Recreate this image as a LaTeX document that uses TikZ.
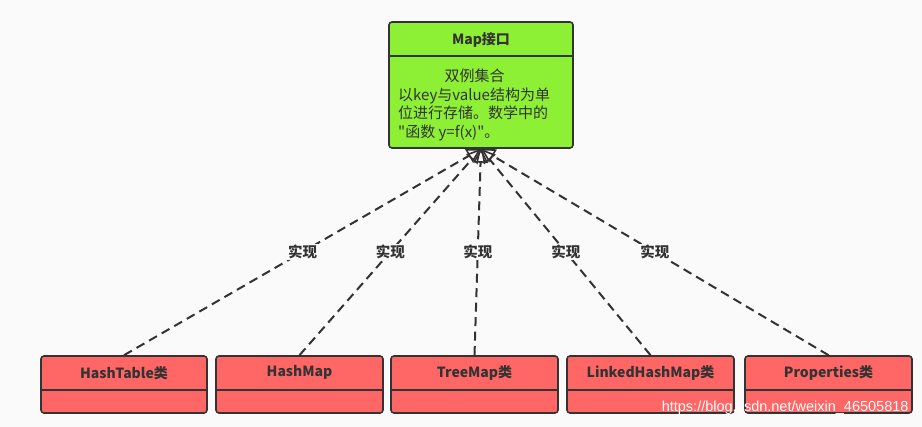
\documentclass[tikz,border=0pt]{standalone}
\usepackage{fontspec}
\setmainfont{Noto Sans CJK SC}
\newfontfamily\cjkbody{Noto Sans CJK SC}
\newfontfamily\wmfont{Liberation Sans}
\usetikzlibrary{arrows.meta,calc}
\definecolor{mapgreen}{RGB}{141,240,52}
\definecolor{clsred}{RGB}{255,102,102}
\definecolor{edgegray}{RGB}{51,51,51}
\definecolor{bggray}{RGB}{250,250,250}
\tikzset{
	cls/.style={draw=edgegray, line width=1.6pt, rounded corners=3pt, inner sep=0pt},
	ttl/.style={text=edgegray, font=\fontsize{14}{16}\selectfont\bfseries},
	sepline/.style={draw=edgegray, line width=1.6pt},
	impl/.style={draw=edgegray, line width=2pt, dash pattern=on 9pt off 5.5pt, -{Triangle[open, length=14pt, width=15pt, line width=1.6pt]}},
	lbl/.style={fill=bggray, inner sep=1pt, text=edgegray, font=\fontsize{14.5}{16}\selectfont\bfseries}
}

\begin{document}
\begin{tikzpicture}[x=1pt, y=-1pt]
	%%%%% START %%%%%
	
	\fill[bggray] (0,0) rectangle (922,427);
	\useasboundingbox (0,0) rectangle (922,427);
	
	% interface
	\node[cls, fill=mapgreen, minimum width=184, minimum height=126] (map) at (481, 85) {};
	\draw[sepline] ($(map.north west)+(0,35)$) -- ($(map.north east)+(0,35)$);
	\node[ttl] (map-t) at (481, 39.5) {Map接口};
	\node[anchor=north west, align=left, inner sep=0pt, text=edgegray, font=\cjkbody\fontsize{15}{18.5}\selectfont] (map-b) at (398, 69) {\hspace*{3.1em}双例集合\\以key与value结构为单\\位进行存储。数学中的\\"函数 y=f(x)"。};
	
	% classes
	\node[cls, fill=clsred, minimum width=166, minimum height=57] (ht) at (124, 384.5) {};
	\node[cls, fill=clsred, minimum width=167, minimum height=57] (hm) at (299.5, 384.5) {};
	\node[cls, fill=clsred, minimum width=167, minimum height=57] (tm) at (474.5, 384.5) {};
	\node[cls, fill=clsred, minimum width=167, minimum height=57] (lhm) at (650.5, 384.5) {};
	\node[cls, fill=clsred, minimum width=167, minimum height=57] (pr) at (828.5, 384.5) {};
	
	\foreach \c/\t in {ht/HashTable类, hm/HashMap, tm/TreeMap类, lhm/LinkedHashMap类, pr/Properties类}{
		\draw[sepline] ($(\c.north west)+(0,35)$) -- ($(\c.north east)+(0,35)$);
		\node[ttl] (\c-t) at ($(\c.north)+(0,17.5)$) {\t};
	}
	
	% realisation
	\foreach \c in {ht, hm, tm, lhm, pr}
		\draw[impl] (\c.north) -- node[lbl] (\c-l) {实现} (map.south);
	
	\node[anchor=east, text=white, font=\wmfont\fontsize{14.5}{16}\selectfont] (wm) at (912, 408) {https://blog.csdn.net/weixin\_46505818};
	
	%%%%% END %%%%%
\end{tikzpicture}
\end{document}
